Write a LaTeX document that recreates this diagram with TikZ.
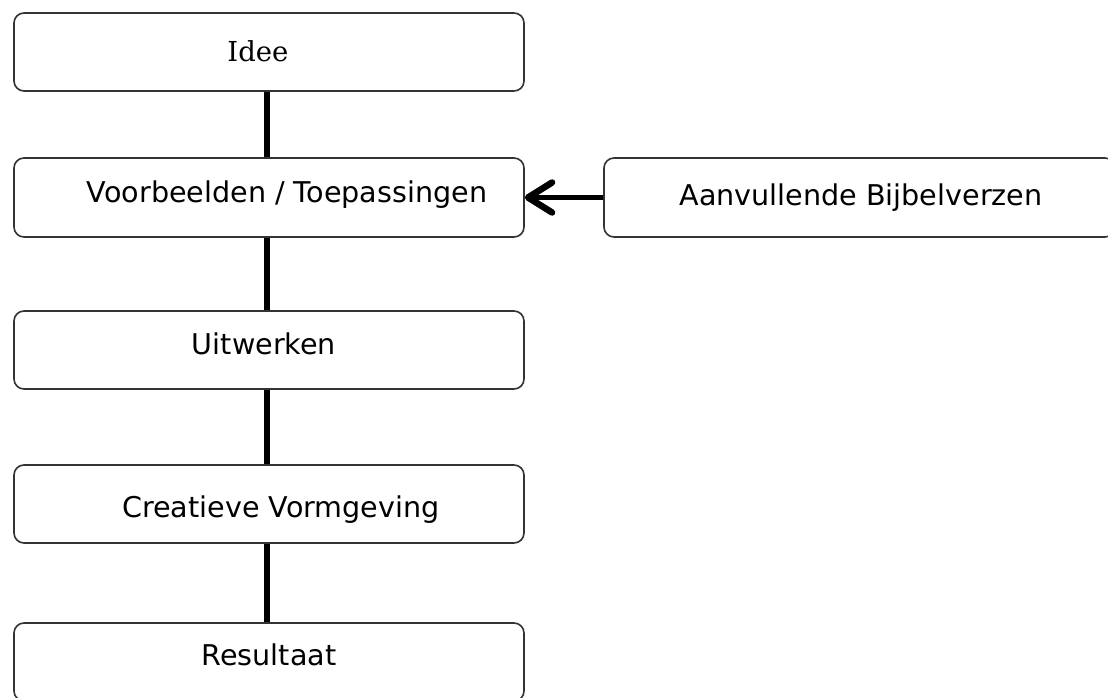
\documentclass[tikz,border=0pt]{standalone}
\usepackage{fontspec}
\setmainfont{DejaVu Sans}
\newfontfamily\ideefont{DejaVu Serif}
\usetikzlibrary{arrows.meta}
\tikzset{
  box/.style={draw=black!80, line width=1.6pt, rounded corners=10pt, minimum width=510pt, minimum height=78pt, inner sep=0pt},
  lbl/.style={anchor=base, inner sep=0pt, font=\fontsize{28.6}{32}\selectfont},
  link/.style={line width=5.5pt, black},
}
\begin{document}
\begin{tikzpicture}[x=1pt,y=1pt]
\useasboundingbox (0,0) rectangle (1108,697);
\clip (0,0) rectangle (1108,697);
\node[box] (b1) at (269,645) {};
\node[box, minimum height=79pt] (b2) at (269,499.5) {};
\node[box] (b3) at (269,347) {};
\node[box] (b4) at (269,193) {};
\node[box] (b5) at (269,35) {};
\node[box, minimum width=511pt, minimum height=79pt] (r) at (859.5,499.5) {};
\node[lbl, font=\ideefont\fontsize{27.5}{30}\selectfont] (t1) at (258,635) {Idee};
\node[lbl] (t2) at (287,494) {Voorbeelden / Toepassingen};
\node[lbl] (tr) at (861,491) {Aanvullende Bijbelverzen};
\node[lbl] (t3) at (264,342) {Uitwerken};
\node[lbl] (t4) at (281,180) {Creatieve Vormgeving};
\node[lbl] (t5) at (269,32) {Resultaat};
\draw[link] ([xshift=-2pt]b1.south) -- ([xshift=-2pt]b2.north);
\draw[link] ([xshift=-2pt]b2.south) -- ([xshift=-2pt]b3.north);
\draw[link] ([xshift=-2pt]b3.south) -- ([xshift=-2pt]b4.north);
\draw[link] ([xshift=-2pt]b4.south) -- ([xshift=-2pt]b5.north);
\draw[link, -{Straight Barb[length=24pt,width=30pt,round,line width=6.5pt]}] (r.west) -- (b2.east);
\end{tikzpicture}
\end{document}
